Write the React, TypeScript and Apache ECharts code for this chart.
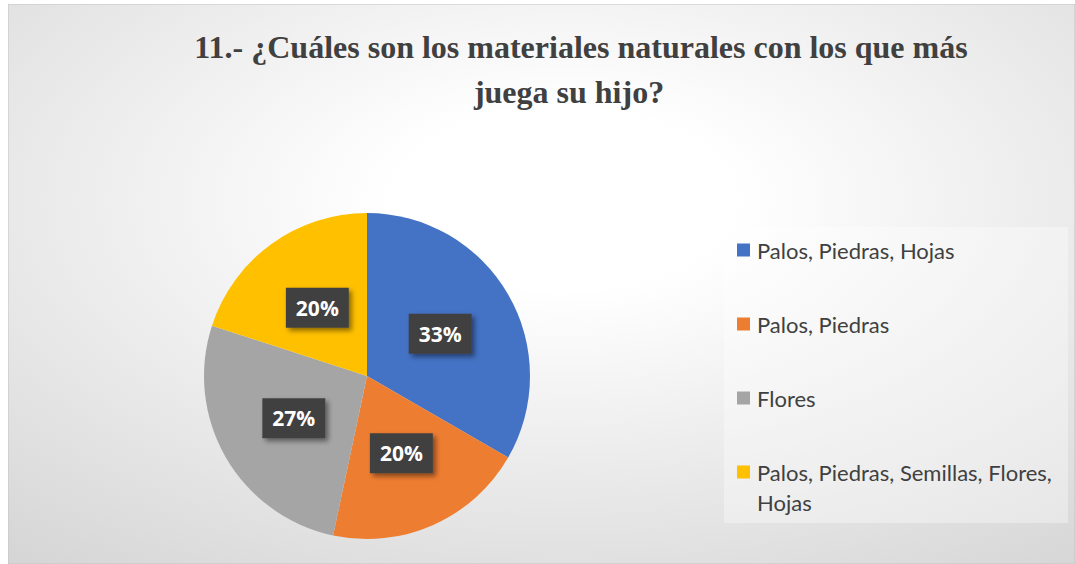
import React, { useEffect, useRef } from "react";
import * as echarts from "echarts";

const titleLines = [
  "11.- ¿Cuáles son los materiales naturales con los que más",
  "juega su hijo?",
];
const categories = [
  "Palos, Piedras, Hojas",
  "Palos, Piedras",
  "Flores",
  "Palos, Piedras, Semillas, Flores, Hojas",
];
const legendLabels = [
  "Palos, Piedras, Hojas",
  "Palos, Piedras",
  "Flores",
  "Palos, Piedras, Semillas, Flores,\nHojas",
];
const values = [5, 3, 4, 3];
const colors = ["#4472C4", "#ED7D31", "#A5A5A5", "#FFC000"];

const W = 1067;
const H = 560;

export default function App() {
  const ref = useRef<HTMLDivElement>(null);
  useEffect(() => {
    if (!ref.current) return;
    const chart = echarts.init(ref.current, undefined, { renderer: "svg" });
    const legendX = 729;
    const legendRowY = [246, 320, 394, 468];
    const legendGraphics: any[] = [];
    categories.forEach((c, i) => {
      legendGraphics.push({
        type: "rect",
        shape: { x: legendX, y: legendRowY[i] - 6.5, width: 13, height: 13 },
        style: { fill: colors[i] },
        z: 10,
      });
      legendGraphics.push({
        type: "text",
        x: legendX + 20,
        y: legendRowY[i] - 15,
        style: {
          text: legendLabels[i],
          fill: "#404040",
          font: '22px "Lato", "Noto Sans", sans-serif',
          lineHeight: 30,
          textVerticalAlign: "top",
        },
        z: 10,
      });
    });
    const titleX = [573, 561];
    const titleGraphics = titleLines.map((t, i) => ({
      type: "text",
      x: titleX[i],
      y: 20 + i * 45,
      style: {
        text: t,
        fill: "#404040",
        font: 'bold 32px "Liberation Serif", "Times New Roman", serif',
        lineHeight: 45,
        textAlign: "center",
        textVerticalAlign: "top",
      },
      z: 10,
    }));

    chart.setOption({
      animation: false,
      graphic: [
        {
          type: "rect",
          shape: { x: 0, y: 0, width: W, height: H },
          style: {
            fill: new echarts.graphic.RadialGradient(0.52, 0.35, 1.07, [
              { offset: 0, color: "#ffffff" },
              { offset: 0.15, color: "#ffffff" },
              { offset: 1, color: "#c6c6c6" },
            ]),
            stroke: "#c4c4c4",
            lineWidth: 1,
          },
          z: -10,
          silent: true,
        },
        {
          type: "rect",
          shape: { x: 716, y: 223, width: 344, height: 296 },
          style: { fill: "rgba(255,255,255,0.35)" },
          z: 5,
          silent: true,
        },
        ...titleGraphics,
        ...legendGraphics,
      ],
      series: [
        {
          type: "pie",
          center: [359, 372],
          radius: 163,
          startAngle: 90,
          clockwise: true,
          percentPrecision: 0,
          data: categories.map((c, i) => ({
            name: c,
            value: values[i],
            itemStyle: { color: colors[i] },
          })),
          label: {
            show: true,
            position: "inside",
            formatter: "{d}%",
            color: "#ffffff",
            fontWeight: "bold",
            fontSize: 21,
            fontFamily: '"Open Sans", "Noto Sans", sans-serif',
            backgroundColor: "#404040",
            padding: [10, 10, 9, 10],
            shadowColor: "rgba(0,0,0,0.45)",
            shadowBlur: 5,
            shadowOffsetX: 3,
            shadowOffsetY: 3,
          },
          labelLine: { show: false },
          emphasis: { disabled: true },
        },
      ],
    });
    return () => chart.dispose();
  }, []);
  return (
    <div
      ref={ref}
      style={{ position: "absolute", left: 8, top: 4, width: W, height: H }}
    />
  );
}
